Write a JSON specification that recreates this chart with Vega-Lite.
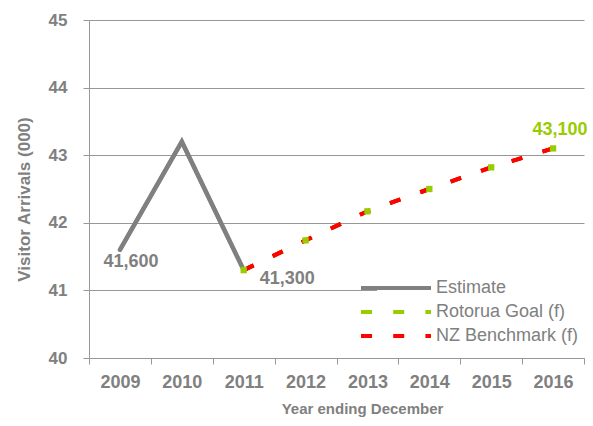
{
  "$schema": "https://vega.github.io/schema/vega-lite/v6.json",
  "width": 495,
  "height": 338,
  "autosize": {"type": "none"},
  "padding": {"left": 89, "top": 20, "right": 9, "bottom": 68},
  "background": "white",
  "config": {
    "view": {"stroke": null},
    "font": "Liberation Sans",
    "axis": {
      "domainColor": "#989898",
      "tickColor": "#989898",
      "gridColor": "#989898",
      "labelColor": "#808080",
      "titleColor": "#808080",
      "labelFont": "Liberation Sans",
      "titleFont": "Liberation Sans",
      "labelFontWeight": "bold",
      "titleFontWeight": "bold"
    }
  },
  "data": {
    "values": [
      {"year": "2009", "value": 41.6, "series": "Estimate", "label": "41,600"},
      {"year": "2010", "value": 43.2, "series": "Estimate"},
      {"year": "2011", "value": 41.3, "series": "Estimate", "label": "41,300"},
      {"year": "2011", "value": 41.3, "series": "Rotorua Goal (f)"},
      {"year": "2012", "value": 41.74, "series": "Rotorua Goal (f)"},
      {"year": "2013", "value": 42.17, "series": "Rotorua Goal (f)"},
      {"year": "2014", "value": 42.5, "series": "Rotorua Goal (f)"},
      {"year": "2015", "value": 42.82, "series": "Rotorua Goal (f)"},
      {"year": "2016", "value": 43.1, "series": "Rotorua Goal (f)", "label": "43,100"},
      {"year": "2011", "value": 41.3, "series": "NZ Benchmark (f)"},
      {"year": "2012", "value": 41.74, "series": "NZ Benchmark (f)"},
      {"year": "2013", "value": 42.17, "series": "NZ Benchmark (f)"},
      {"year": "2014", "value": 42.5, "series": "NZ Benchmark (f)"},
      {"year": "2015", "value": 42.82, "series": "NZ Benchmark (f)"},
      {"year": "2016", "value": 43.1, "series": "NZ Benchmark (f)"}
    ]
  },
  "encoding": {
    "x": {
      "field": "year",
      "type": "ordinal",
      "bandPosition": 0.5,
      "scale": {
        "type": "band",
        "paddingInner": 0,
        "paddingOuter": 0,
        "domain": ["2009", "2010", "2011", "2012", "2013", "2014", "2015", "2016"]
      },
      "axis": {
        "title": "Year ending December",
        "labelAngle": 0,
        "tickBand": "extent",
        "tickSize": 6,
        "labelPadding": 9,
        "labelFontSize": 18,
        "titleFontSize": 15,
        "titleX": 273,
        "titleY": 55,
        "titleAlign": "center",
        "titleBaseline": "alphabetic",
        "grid": false
      }
    },
    "y": {
      "field": "value",
      "type": "quantitative",
      "scale": {"domain": [40, 45], "nice": false, "zero": false},
      "axis": {
        "title": "Visitor Arrivals (000)",
        "values": [40, 41, 42, 43, 44, 45],
        "grid": true,
        "tickSize": 6,
        "labelPadding": 16,
        "labelFontSize": 17,
        "titleFontSize": 17,
        "titleX": -56,
        "titleY": 179,
        "titleAlign": "center",
        "titleBaseline": "bottom"
      }
    }
  },
  "layer": [
    {
      "mark": {"type": "line", "strokeWidth": 4},
      "encoding": {
        "color": {
          "field": "series",
          "type": "nominal",
          "scale": {
            "domain": ["Estimate", "Rotorua Goal (f)", "NZ Benchmark (f)"],
            "range": ["#808080", "#99cc00", "#ff0000"]
          },
          "legend": {
            "title": null,
            "orient": "none",
            "legendX": 288,
            "legendY": 249,
            "symbolType": "M-3.889,0H3.889",
            "symbolSize": 324,
            "symbolStrokeWidth": 4,
            "labelFontSize": 18,
            "labelColor": "#808080",
            "labelFont": "Liberation Sans",
            "fillColor": "white",
            "padding": 8,
            "labelOffset": 29,
            "rowPadding": 4
          }
        },
        "strokeDash": {
          "field": "series",
          "type": "nominal",
          "scale": {
            "domain": ["Estimate", "Rotorua Goal (f)", "NZ Benchmark (f)"],
            "range": [[1, 0], [11, 21.2], [11, 21.2]]
          },
          "legend": null
        }
      }
    },
    {
      "transform": [{"filter": "datum.series === 'Estimate'"}],
      "mark": {"type": "line", "strokeWidth": 4.5, "strokeCap": "round", "strokeJoin": "miter", "color": "#808080"},
      "encoding": {}
    },
    {
      "transform": [{"filter": "datum.series === 'NZ Benchmark (f)'"}],
      "mark": {"type": "line", "strokeWidth": 4, "strokeDash": [11, 21.2], "color": "#ff0000"},
      "encoding": {}
    },
    {
      "transform": [{"filter": "datum.series === 'Rotorua Goal (f)'"}],
      "mark": {"type": "point", "shape": "square", "filled": true, "size": 40, "opacity": 1, "color": "#99cc00"},
      "encoding": {}
    },
    {
      "transform": [{"filter": "datum.label === '41,600'"}],
      "mark": {"type": "text", "align": "center", "baseline": "middle", "dx": 11, "dy": 12, "fontSize": 18, "fontWeight": "bold", "color": "#808080"},
      "encoding": {"text": {"field": "label"}}
    },
    {
      "transform": [{"filter": "datum.label === '41,300'"}],
      "mark": {"type": "text", "align": "left", "baseline": "middle", "dx": 16, "dy": 9, "fontSize": 18, "fontWeight": "bold", "color": "#808080"},
      "encoding": {"text": {"field": "label"}}
    },
    {
      "transform": [{"filter": "datum.label === '43,100'"}],
      "mark": {"type": "text", "align": "center", "baseline": "middle", "dx": 7, "dy": -18, "fontSize": 18, "fontWeight": "bold", "color": "#99cc00"},
      "encoding": {"text": {"field": "label"}}
    }
  ]
}
